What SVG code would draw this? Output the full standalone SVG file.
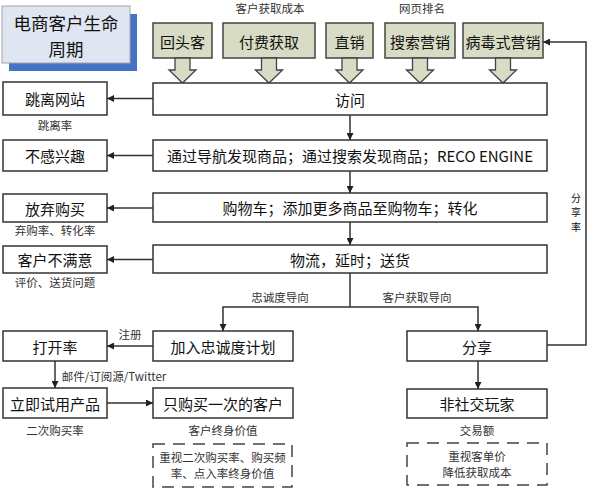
<svg xmlns="http://www.w3.org/2000/svg" width="589" height="488" viewBox="0 0 589 488">
  <defs>
    <marker id="arr" viewBox="0 0 10 10" refX="10" refY="5" markerWidth="7" markerHeight="7" markerUnits="userSpaceOnUse" orient="auto">
      <path d="M0,0 L10,5 L0,10 z" fill="#222"/>
    </marker>
    <style>
      text { font-family: "Noto Sans CJK SC", "Noto Sans", sans-serif; fill: #111; text-anchor: middle; dominant-baseline: central; }
      .box { fill: #fff; stroke: #333; stroke-width: 1.5; }
      .src { fill: #d8dcc4; stroke: #444; stroke-width: 1.5; }
      .blk { fill: #d8dcc4; stroke: #444; stroke-width: 1.3; }
      .dash { fill: #fff; stroke: #444; stroke-width: 1.5; stroke-dasharray: 12 8; }
      .t { font-size: 15px; }
      .s { font-size: 11.5px; fill: #333; }
      .ln { fill: none; stroke: #333; stroke-width: 1.5; }
      .la { fill: none; stroke: #333; stroke-width: 1.5; marker-end: url(#arr); }
    </style>
  </defs>

  <!-- title card -->
  <g id="title">
    <rect x="9" y="14" width="128" height="57" fill="#4472c4"/>
    <rect x="2" y="6" width="128" height="57" fill="#dfe6f2" stroke="#a6a6a6" stroke-width="1"/>
    <text x="66" y="22" font-size="17.5">电商客户生命</text>
    <text x="66" y="48" font-size="17.5">周期</text>
  </g>

  <!-- top captions -->
  <text class="s" x="270" y="8">客户获取成本</text>
  <text class="s" x="422" y="8">网页排名</text>

  <!-- acquisition sources -->
  <g id="src-return">
    <rect class="src" x="153" y="23" width="59" height="35"/>
    <text class="t" x="182.5" y="41">回头客</text>
    <path class="blk" d="M175,58 L190,58 L190,70 L196,70 L182.5,83 L169,70 L175,70 z"/>
  </g>
  <g id="src-paid">
    <rect class="src" x="223" y="23" width="92" height="35"/>
    <text class="t" x="269" y="41">付费获取</text>
    <path class="blk" d="M261.5,58 L276.5,58 L276.5,70 L282.5,70 L269,83 L255.5,70 L261.5,70 z"/>
  </g>
  <g id="src-direct">
    <rect class="src" x="326" y="23" width="47" height="35"/>
    <text class="t" x="349.5" y="41">直销</text>
    <path class="blk" d="M342,58 L357,58 L357,70 L363,70 L349.5,83 L336,70 L342,70 z"/>
  </g>
  <g id="src-search">
    <rect class="src" x="385" y="23" width="70" height="35"/>
    <text class="t" x="420" y="41">搜索营销</text>
    <path class="blk" d="M412.5,58 L427.5,58 L427.5,70 L433.5,70 L420,83 L406.5,70 L412.5,70 z"/>
  </g>
  <g id="src-viral">
    <rect class="src" x="463" y="23" width="80" height="35"/>
    <text class="t" x="503" y="41">病毒式营销</text>
    <path class="blk" d="M495.5,58 L510.5,58 L510.5,70 L516.5,70 L503,83 L489.5,70 L495.5,70 z"/>
  </g>

  <!-- main funnel -->
  <g id="visit">
    <rect class="box" x="153" y="83" width="394" height="32"/>
    <text class="t" x="350" y="99">访问</text>
  </g>
  <g id="discover">
    <rect class="box" x="153" y="140" width="394" height="31"/>
    <text class="t" x="350" y="155.5">通过导航发现商品；通过搜索发现商品；RECO ENGINE</text>
  </g>
  <g id="cart">
    <rect class="box" x="153" y="193" width="394" height="29"/>
    <text class="t" x="350" y="207.5">购物车；添加更多商品至购物车；转化</text>
  </g>
  <g id="delivery">
    <rect class="box" x="153" y="245" width="394" height="28"/>
    <text class="t" x="350" y="259">物流，延时；送货</text>
  </g>

  <!-- drop-off outcomes -->
  <g id="bounce">
    <rect class="box" x="3" y="82" width="104" height="33"/>
    <text class="t" x="55" y="98.5">跳离网站</text>
    <text class="s" x="55" y="125">跳离率</text>
  </g>
  <g id="uninterested">
    <rect class="box" x="3" y="140" width="104" height="31"/>
    <text class="t" x="55" y="155.5">不感兴趣</text>
  </g>
  <g id="abandon">
    <rect class="box" x="3" y="194" width="104" height="28"/>
    <text class="t" x="55" y="208">放弃购买</text>
    <text class="s" x="55" y="230">弃购率、转化率</text>
  </g>
  <g id="unhappy">
    <rect class="box" x="3" y="246" width="104" height="27"/>
    <text class="t" x="55" y="259.5">客户不满意</text>
    <text class="s" x="55" y="282">评价、送货问题</text>
  </g>

  <!-- loyalty branch -->
  <g id="loyalty">
    <rect class="box" x="153" y="331" width="140" height="30"/>
    <text class="t" x="223" y="346">加入忠诚度计划</text>
  </g>
  <g id="open-rate">
    <rect class="box" x="3" y="331" width="104" height="30"/>
    <text class="t" x="55" y="346">打开率</text>
  </g>
  <g id="trial">
    <rect class="box" x="3" y="388" width="104" height="30"/>
    <text class="t" x="55" y="403">立即试用产品</text>
    <text class="s" x="55" y="430">二次购买率</text>
  </g>
  <g id="one-time">
    <rect class="box" x="153" y="388" width="140" height="30"/>
    <text class="t" x="223" y="403">只购买一次的客户</text>
    <text class="s" x="223" y="430">客户终身价值</text>
  </g>
  <g id="loyalty-note">
    <rect class="dash" x="153" y="444" width="139" height="43"/>
    <text class="s" x="222.5" y="457">重视二次购买率、购买频</text>
    <text class="s" x="222.5" y="473">率、点入率终身价值</text>
  </g>

  <!-- acquisition branch -->
  <g id="share">
    <rect class="box" x="407" y="331" width="140" height="30"/>
    <text class="t" x="477" y="346">分享</text>
  </g>
  <g id="non-social">
    <rect class="box" x="407" y="389" width="140" height="29"/>
    <text class="t" x="477" y="403.5">非社交玩家</text>
    <text class="s" x="477" y="430">交易额</text>
  </g>
  <g id="acq-note">
    <rect class="dash" x="407" y="443" width="140" height="42"/>
    <text class="s" x="477" y="456">重视客单价</text>
    <text class="s" x="477" y="472">降低获取成本</text>
  </g>

  <!-- connectors -->
  <g id="connectors">
    <line class="la" x1="350" y1="115" x2="350" y2="140"/>
    <line class="la" x1="350" y1="171" x2="350" y2="193"/>
    <line class="la" x1="350" y1="222" x2="350" y2="245"/>
    <line class="la" x1="153" y1="98.5" x2="107" y2="98.5"/>
    <line class="la" x1="153" y1="155.5" x2="107" y2="155.5"/>
    <line class="la" x1="153" y1="208" x2="107" y2="208"/>
    <line class="la" x1="153" y1="259.5" x2="107" y2="259.5"/>
    <line class="ln" x1="350" y1="273" x2="350" y2="307"/>
    <polyline class="la" points="350,307 223,307 223,331"/>
    <polyline class="la" points="350,307 478,307 478,331"/>
    <line class="la" x1="153" y1="346" x2="107" y2="346"/>
    <line class="la" x1="55" y1="361" x2="55" y2="388"/>
    <line class="la" x1="107" y1="403" x2="153" y2="403"/>
    <line class="la" x1="478" y1="361" x2="478" y2="389"/>
    <polyline class="la" points="547,345 586,345 586,42 543,42"/>
    <text class="s" x="280" y="297">忠诚度导向</text>
    <text class="s" x="417" y="297">客户获取导向</text>
    <text class="s" x="130" y="334">注册</text>
    <text class="s" x="114" y="376">邮件/订阅源/Twitter</text>
    <text x="576" y="197" font-size="10" fill="#333">分</text>
    <text x="576" y="211.5" font-size="10" fill="#333">享</text>
    <text x="576" y="226" font-size="10" fill="#333">率</text>
  </g>
</svg>
